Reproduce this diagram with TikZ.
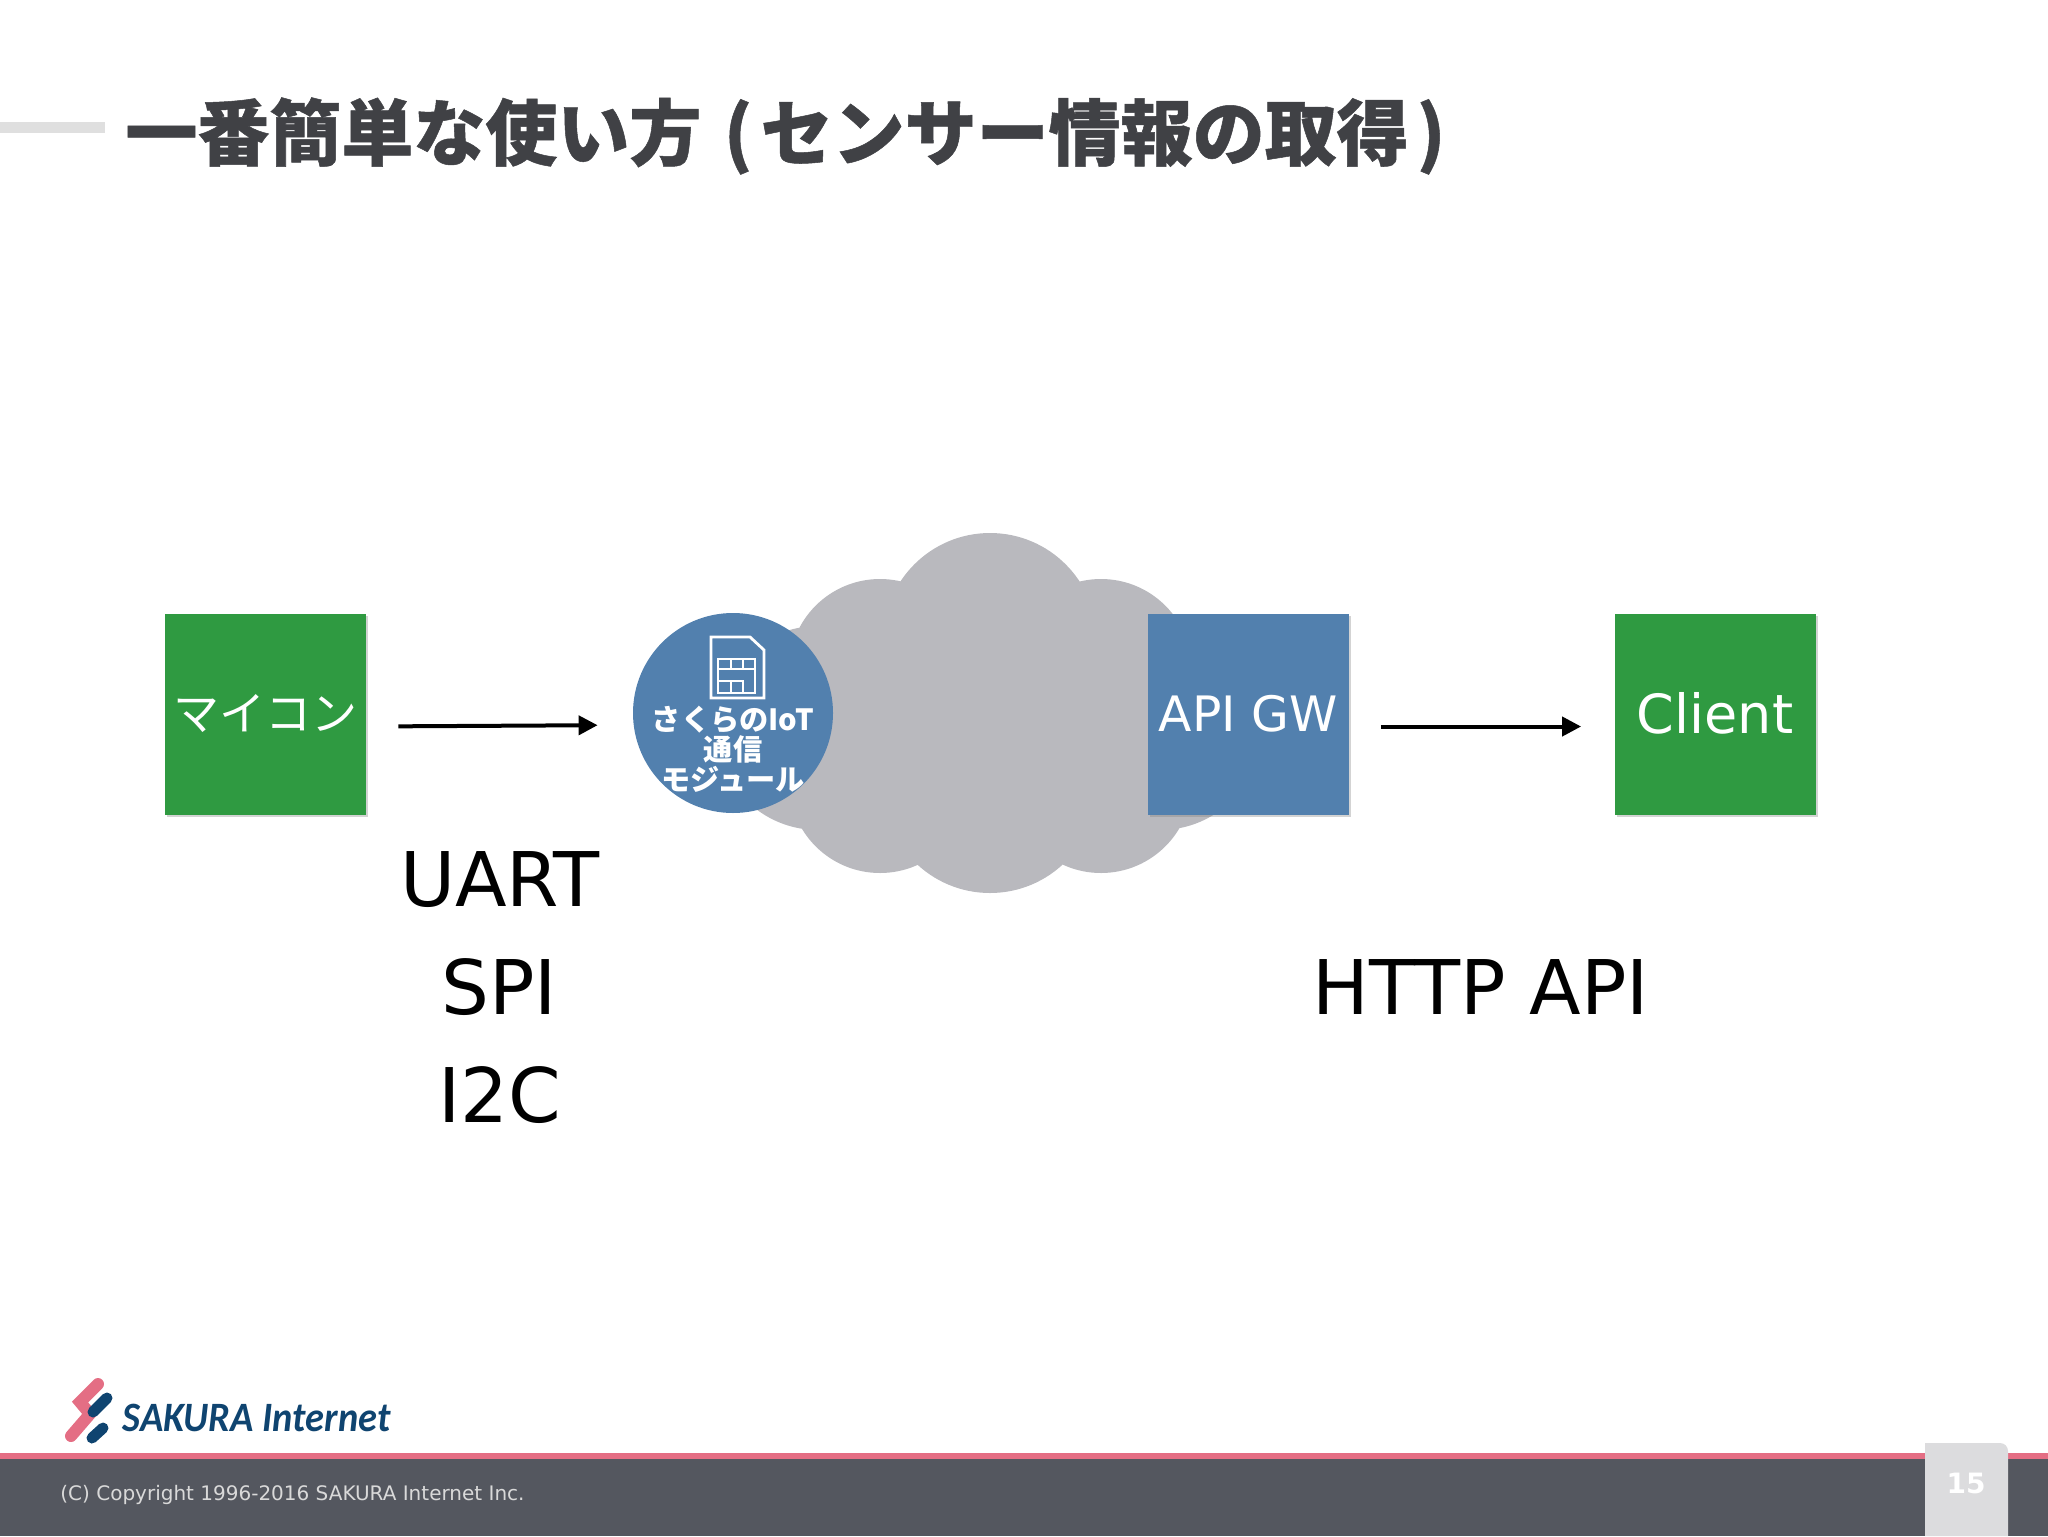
\documentclass[tikz,border=0pt]{standalone}
\usepackage{fontspec}
\setmainfont{DejaVu Sans}
\newfontfamily\jpfont{Noto Sans CJK JP}
\newfontfamily\logofont{Carlito}[FakeStretch=.92]
\usetikzlibrary{shadows,arrows.meta}
\definecolor{titlegray}{HTML}{404145}
\definecolor{barpink}{HTML}{E46E84}
\definecolor{footgray}{HTML}{54575F}
\definecolor{tabgray}{HTML}{DCDCDE}
\definecolor{boxgreen}{HTML}{2F9A41}
\definecolor{boxblue}{HTML}{5280AE}
\definecolor{cloudgray}{HTML}{B9B9BE}
\definecolor{logoblue}{HTML}{0F4470}
\tikzset{
  box/.style={minimum width=100.5pt,minimum height=100.5pt,inner sep=0pt,text=white,
    drop shadow={shadow xshift=1pt,shadow yshift=-1pt,opacity=.35}},
  flow/.style={line width=2pt,-{Triangle[length=9.5pt,width=9.5pt]},shorten <=16pt,shorten >=17.5pt},
  label/.style={font=\fontsize{37.7}{38}\selectfont,text=black}
}
\begin{document}
\begin{tikzpicture}[x=0.5pt,y=-0.5pt]
    \useasboundingbox (0,0) rectangle (2048,1536);
    % title
    \fill[gray!25] (0,122) rectangle (105,133);
    \node[anchor=west,inner sep=0pt,text=titlegray] (title) at (125,136)
      {\jpfont\bfseries\addfontfeature{FakeBold=0.7}\fontsize{36}{36}\selectfont 一番簡単な使い方 \hspace{3pt}(\hspace{4pt}センサー情報の取得\hspace{4pt})};
    % cloud
    \fill[cloudgray] (990,640) circle (107) (880,670) circle (91) (1101,670) circle (91)
      (880,782) circle (91) (1101,782) circle (91) (990,786) circle (107)
      (818,728) circle (102) (1160,728) circle (102);
    % boxes
    \node[box,fill=boxgreen,font=\jpfont\fontsize{23}{23}\selectfont] (mcu) at (265.5,714.5) {\raisebox{2pt}{マイコン}};
    \node[circle,minimum size=100pt,inner sep=0pt,fill=boxblue] (module) at (733,713) {};
    \node[box,fill=boxblue,font=\fontsize{24.4}{25}\selectfont] (apigw) at (1248,714.5) {\raisebox{1pt}{API GW}};
    \node[box,fill=boxgreen,font=\fontsize{27}{27}\selectfont] (client) at (1715,714.5) {\raisebox{1.5pt}{Client}};
    % sim icon
    \draw[white,line width=1.4pt,line join=miter]
      (711,637) -- (750,637) -- (764,650) -- (764,698) -- (711,698) -- cycle;
    \draw[white,line width=1pt] (718,659) rectangle (755,693) (718,669) -- (755,669)
      (731,659) -- (731,669) (743,659) -- (743,669)
      (718,681) -- (743,681) -- (743,693) (731,681) -- (731,693);
    \node[align=center,text=white,inner sep=0pt,font=\jpfont\bfseries\fontsize{14.6}{15}\selectfont]
      (modulelabel) at (733,749) {さくらのIoT\\通信\\モジュール};
    % arrows
    \draw[flow] ([yshift=-6pt]mcu.east) -- ([yshift=-6pt]module.west);
    \draw[flow,shorten >=16.5pt] ([yshift=-6pt]apigw.east) -- ([yshift=-6pt]client.west);
    % labels
    \node[label] (uart) at (500,880) {UART};
    \node[label] (spi) at (499,987) {SPI};
    \node[label] (itwoc) at (500,1095) {I2C};
    \node[label] (http) at (1481,987) {HTTP API};
    % footer
    \fill[footgray] (0,1459) rectangle (2048,1536);
    \fill[barpink] (0,1453) rectangle (2048,1459);
    \fill[tabgray,rounded corners=4pt] (1925,1536) [sharp corners] -- (1925,1443) [rounded corners=4pt] -- (2008,1443) [sharp corners] -- (2008,1536) -- cycle;
    \node[text=white,inner sep=0pt,font=\bfseries\fontsize{14}{14}\selectfont] (page) at (1966,1483) {15};
    \node[anchor=west,inner sep=0pt,text=white!85!black,font=\fontsize{10}{10}\selectfont] (copy) at (60,1495)
      {(C) Copyright 1996-2016 SAKURA Internet Inc.};
    % logo
    \draw[barpink,line width=6pt,line cap=round,line join=miter] (98,1384) -- (80,1402) -- (90,1414) -- (71,1436);
    \draw[logoblue,line width=5.5pt,line cap=round] (107,1398) -- (93,1412) (103,1428) -- (92,1438);
    \node[anchor=west,inner sep=0pt,text=logoblue,font=\logofont\bfseries\itshape\fontsize{20.9}{21}\selectfont] (logo) at (122,1418) {SAKURA Internet};
\end{tikzpicture}
\end{document}
